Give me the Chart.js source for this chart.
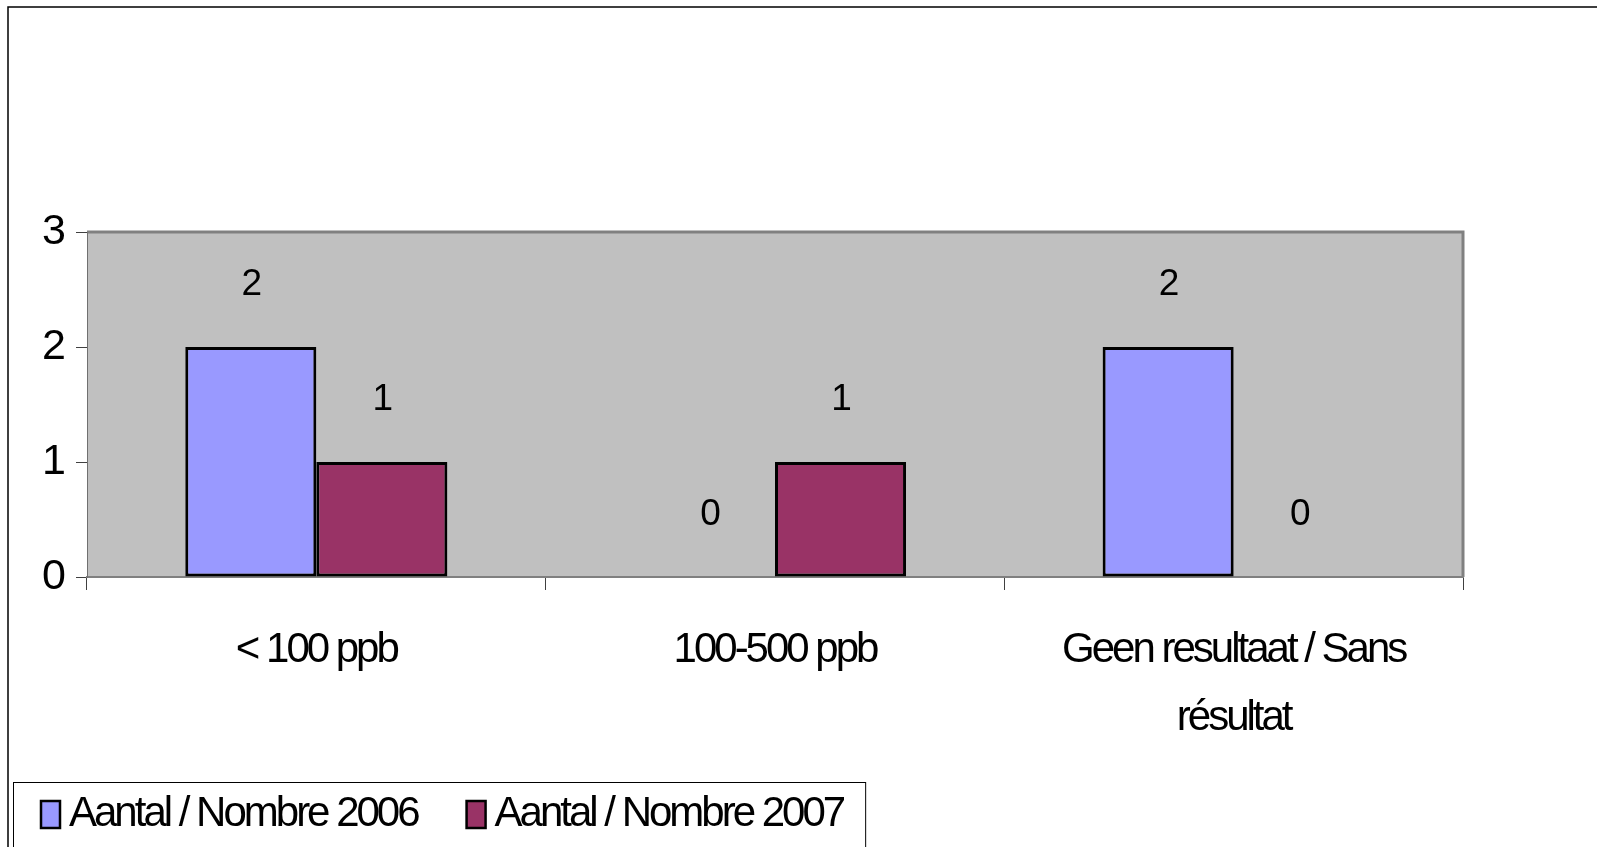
<!DOCTYPE html>
<html>
<head>
<meta charset="utf-8">
<script src="https://cdn.jsdelivr.net/npm/chart.js@4.4.1/dist/chart.umd.min.js"></script>
<style>
  html, body { margin: 0; padding: 0; background: #fff; }
  #wrap { width: 1597px; height: 847px; position: relative; }
</style>
</head>
<body>
<div id="wrap"><canvas id="chart"></canvas></div>
<script>
const categories = ["< 100 ppb", "100-500 ppb", ["Geen resultaat / Sans", "résultat"]];
const seriesNames = ["Aantal / Nombre 2006", "Aantal / Nombre 2007"];
const values2006 = [2, 0, 2];
const values2007 = [1, 1, 0];
const seriesColors = ["#9999FF", "#993366"];
const yMin = 0, yMax = 3, yStep = 1;

const FONT = "'Liberation Sans', Arial, sans-serif";

// frame around the whole chart + grey plot area
const backdrop = {
  id: "backdrop",
  beforeDraw(chart) {
    const { ctx, chartArea: a } = chart;
    ctx.letterSpacing = "-3px";
    ctx.save();
    ctx.strokeStyle = "#000";
    ctx.lineWidth = 1.5;
    ctx.strokeRect(8, 7, chart.width + 20, chart.height + 20);
    ctx.fillStyle = "#C0C0C0";
    ctx.fillRect(a.left, a.top, a.right - a.left, a.bottom - a.top);
    ctx.strokeStyle = "#808080";
    ctx.lineWidth = 3;
    ctx.beginPath();
    ctx.moveTo(a.left, a.top);
    ctx.lineTo(a.right, a.top);
    ctx.lineTo(a.right, a.bottom);
    ctx.stroke();
    ctx.restore();
  }
};

// value labels above each bar
const valueLabels = {
  id: "valueLabels",
  afterDatasetsDraw(chart) {
    const { ctx } = chart;
    ctx.save();
    ctx.letterSpacing = "0px";
    ctx.font = "37px " + FONT;
    ctx.fillStyle = "#000";
    ctx.textAlign = "center";
    ctx.textBaseline = "middle";
    chart.data.datasets.forEach((ds, i) => {
      chart.getDatasetMeta(i).data.forEach((bar, j) => {
        ctx.fillText(String(ds.data[j]), bar.x + 1, bar.y - 62);
      });
    });
    ctx.restore();
  }
};

// boxed legend in the lower left corner
const boxLegend = {
  id: "boxLegend",
  afterDraw(chart) {
    const { ctx } = chart;
    ctx.save();
    ctx.font = "42px " + FONT;
    ctx.textBaseline = "middle";
    const top = 782, left = 13, cy = 814;
    let x = left + 28;
    chart.data.datasets.forEach((ds, i) => {
      ctx.fillStyle = ds.backgroundColor;
      ctx.fillRect(x, cy - 13, 19, 27);
      ctx.strokeStyle = "#000";
      ctx.lineWidth = 2.5;
      ctx.strokeRect(x, cy - 13, 19, 27);
      x += 28;
      ctx.fillStyle = "#000";
      ctx.fillText(ds.label, x, cy);
      x += ctx.measureText(ds.label).width;
      if (i < chart.data.datasets.length - 1) x += 49;
    });
    ctx.strokeStyle = "#000";
    ctx.lineWidth = 1;
    ctx.strokeRect(left + 0.5, top + 0.5, x + 22 - left, 120);
    ctx.restore();
  }
};

new Chart(document.getElementById("chart"), {
  type: "bar",
  data: {
    labels: categories,
    datasets: [
      { label: seriesNames[0], data: values2006, backgroundColor: seriesColors[0] },
      { label: seriesNames[1], data: values2007, backgroundColor: seriesColors[1] }
    ]
  },
  options: {
    responsive: true,
    maintainAspectRatio: false,
    animation: false,
    layout: { padding: { left: 0, top: 232, right: 134, bottom: 0 } },
    datasets: {
      bar: {
        categoryPercentage: 2 / 3.5,
        barPercentage: 1,
        borderColor: "#000",
        borderWidth: 3,
        borderSkipped: false
      }
    },
    plugins: {
      legend: { display: false },
      tooltip: { enabled: false }
    },
    scales: {
      x: {
        afterFit(s) { s.height = 270; },
        grid: { drawOnChartArea: false, tickLength: 13, color: "#404040", lineWidth: 1 },
        border: { color: "#808080", width: 2 },
        ticks: {
          color: "#000",
          padding: 26,
          maxRotation: 0,
          font: { family: FONT, size: 42, lineHeight: 1.62 }
        }
      },
      y: {
        min: yMin,
        max: yMax,
        afterFit(s) { s.width = 87; },
        grid: { drawOnChartArea: false, tickLength: 11, color: "#404040", lineWidth: 1 },
        border: { color: "#707070", width: 1 },
        ticks: {
          stepSize: yStep,
          color: "#000",
          padding: 13,
          font: { family: FONT, size: 43 }
        }
      }
    }
  },
  plugins: [backdrop, valueLabels, boxLegend]
});
</script>
</body>
</html>
